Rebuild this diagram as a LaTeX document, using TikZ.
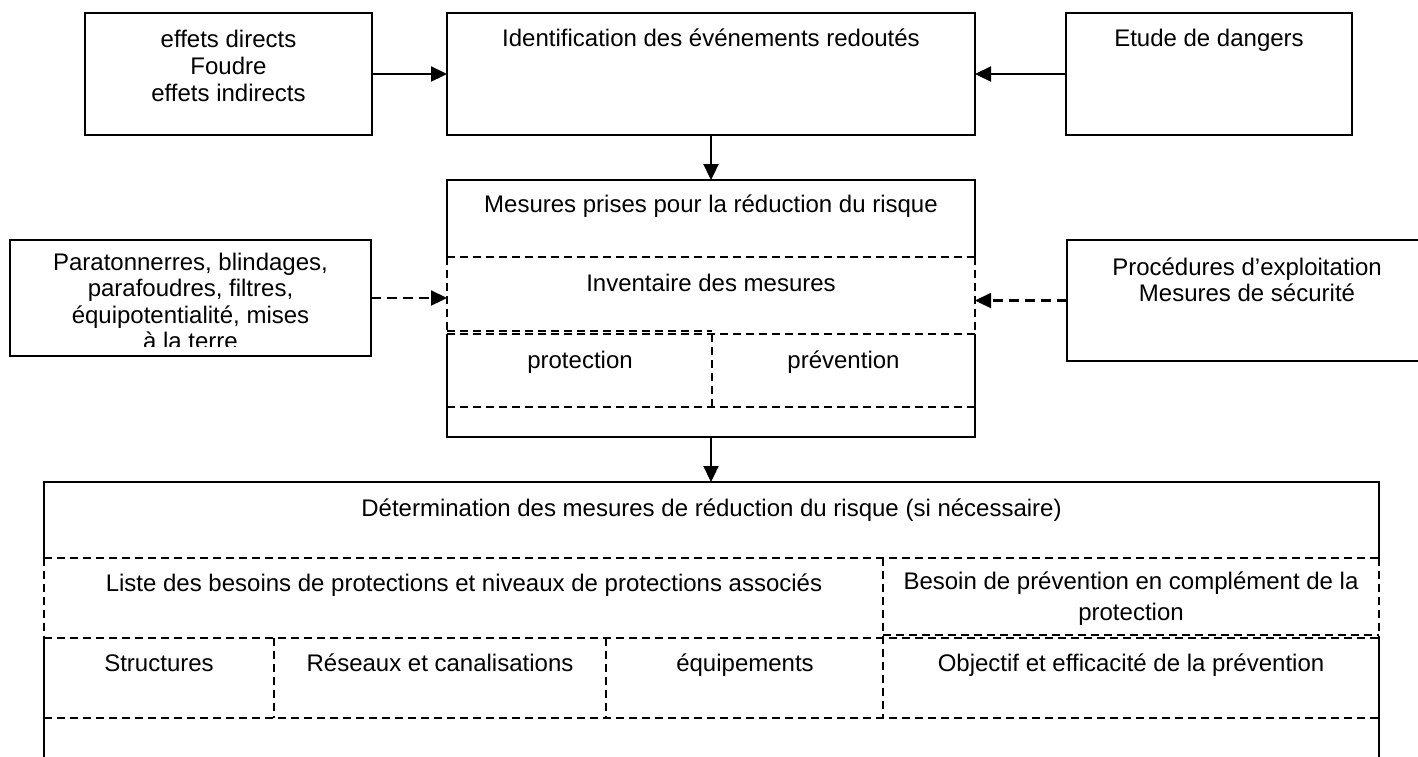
\documentclass[tikz,border=0pt]{standalone}
\usepackage{fontspec}
\setmainfont{Liberation Sans}
\usetikzlibrary{arrows.meta}
\begin{document}
\begin{tikzpicture}[x=1pt,y=-1pt,
  box/.style={rectangle, inner sep=0pt, outer sep=0pt, line width=1.8pt},
  edge/.style={line width=1.8pt},
  dsh/.style={line width=1.4pt, dash pattern=on 8pt off 5pt},
  txt/.style={font=\fontsize{24}{27.6}\selectfont, inner sep=0pt, anchor=base},
  arr/.style={line width=2.3pt, -{Triangle[length=16pt,width=15pt]}},
  darr/.style={arr, dash pattern=on 10pt off 6pt}]
\useasboundingbox (0,0) rectangle (1418,756);
\clip (0,0) rectangle (1418,756);
\fill[white] (0,0) rectangle (1418,756);

% boxes
\node[box, draw, minimum width=287pt, minimum height=122pt] (A) at (228.5,74) {};
\node[box, draw, minimum width=528pt, minimum height=122pt] (B) at (711,74) {};
\node[box, draw, minimum width=286pt, minimum height=122pt] (C) at (1209,74) {};
\node[box, minimum width=528pt, minimum height=257pt] (M) at (711,308.5) {};
\node[box, draw, minimum width=361pt, minimum height=116pt] (L) at (190.5,298) {};
\node[box, draw, minimum width=360pt, minimum height=121pt] (R) at (1247,300.5) {};
\node[box, minimum width=1335pt, minimum height=318pt] (D) at (711.5,641) {};

% M outline with dashed band
\draw[edge] (447,257) -- (447,180) -- (975,180) -- (975,257);
\draw[edge] (447,334) -- (447,437) -- (975,437) -- (975,334);
\draw[dsh] (447,257) -- (447,334);
\draw[dsh] (975,257) -- (975,334);
\draw[dsh] (447,257) -- (975,257);
\draw[dsh] (447,334) -- (975,334);
\draw[dsh] (447,331) -- (712,331);
\draw[dsh] (447,407) -- (975,407);
\draw[dsh] (712,334) -- (712,407);

% D outline
\draw[edge] (44,800) -- (44,638);
\draw[edge] (44,558) -- (44,482) -- (1379,482) -- (1379,558);
\draw[edge] (1379,638) -- (1379,800);
\draw[dsh] (44,558) -- (44,638);
\draw[dsh] (1379,558) -- (1379,638);
\draw[dsh] (44,558) -- (1379,558);
\draw[dsh] (44,638) -- (1379,638);
\draw[dsh] (883,635) -- (1379,635);
\draw[dsh] (44,718) -- (1379,718);
\draw[dsh] (883,558) -- (883,718);
\draw[dsh] (274,638) -- (274,718);
\draw[dsh] (606,638) -- (606,718);

% connectors
\draw[arr] (A.east) -- (B.west);
\draw[arr] (C.west) -- (B.east);
\draw[arr] (B.south) -- (M.north);
\draw[darr] (L.east) -- (L.east -| M.west);
\draw[darr] (R.west) -- (R.west -| M.east);
\draw[arr] (M.south) -- (M.south |- D.north);

% texts
\node[txt] (a1) at (228.5,47) {effets directs};
\node[txt] (a2) at (228.5,74) {Foudre};
\node[txt] (a3) at (228.5,101) {effets indirects};
\node[txt] (b1) at (711,46) {Identification des événements redoutés};
\node[txt] (c1) at (1209,46) {Etude de dangers};
\node[txt] (m1) at (711,212) {Mesures prises pour la réduction du risque};
\node[txt] (m2) at (711,291) {Inventaire des mesures};
\node[txt] (m3) at (580,368) {protection};
\node[txt] (m4) at (843.5,368) {prévention};
\node[txt] (l1) at (190.5,270) {Paratonnerres, blindages,};
\node[txt] (l2) at (190.5,296) {parafoudres, filtres,};
\node[txt] (l3) at (190.5,323) {équipotentialité, mises};
\begin{scope}
\clip (12,330) rectangle (369,346);
\node[txt] (l4) at (190.5,349) {à la terre};
\end{scope}
\node[txt] (r1) at (1247,275) {Procédures d’exploitation};
\node[txt] (r2) at (1247,301) {Mesures de sécurité};
\node[txt] (d1) at (711.5,516) {Détermination des mesures de réduction du risque (si nécessaire)};
\node[txt] (d2) at (464,591) {Liste des besoins de protections et niveaux de protections associés};
\node[txt] (d3) at (1131,589) {Besoin de prévention en complément de la};
\node[txt] (d4) at (1131,620) {protection};
\node[txt] (d5) at (159,671) {Structures};
\node[txt] (d6) at (440,671) {Réseaux et canalisations};
\node[txt] (d7) at (745,671) {équipements};
\node[txt] (d8) at (1131,671) {Objectif et efficacité de la prévention};
\end{tikzpicture}
\end{document}
